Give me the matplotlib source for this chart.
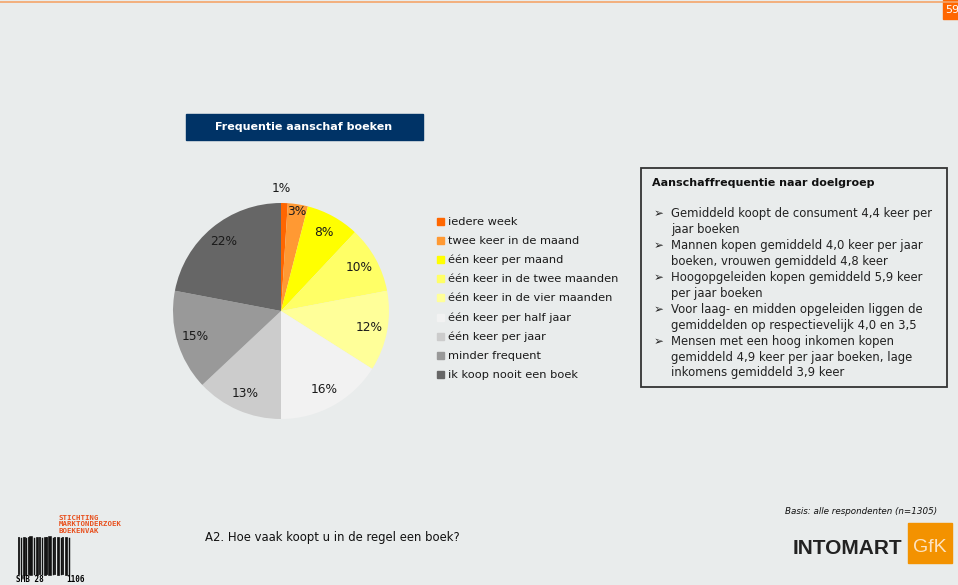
import matplotlib
matplotlib.use('Agg')
import matplotlib.pyplot as plt
from matplotlib.patches import Rectangle
import numpy as np

# Data
categories = ['iedere week', 'twee keer in de maand', 'één keer per maand',
              'één keer in de twee maanden', 'één keer in de vier maanden',
              'één keer per half jaar', 'één keer per jaar', 'minder frequent',
              'ik koop nooit een boek']
shares = [1, 3, 8, 10, 12, 16, 13, 15, 22]
colors = ['#FF6600', '#FF9933', '#FFFF00', '#FFFF66', '#FFFF99',
          '#F2F2F2', '#CCCCCC', '#999999', '#666666']

box_title = 'Aanschaffrequentie naar doelgroep'
box_lines = [
    ['Gemiddeld koopt de consument 4,4 keer per', 'jaar boeken'],
    ['Mannen kopen gemiddeld 4,0 keer per jaar', 'boeken, vrouwen gemiddeld 4,8 keer'],
    ['Hoogopgeleiden kopen gemiddeld 5,9 keer', 'per jaar boeken'],
    ['Voor laag- en midden opgeleiden liggen de', 'gemiddelden op respectievelijk 4,0 en 3,5'],
    ['Mensen met een hoog inkomen kopen', 'gemiddeld 4,9 keer per jaar boeken, lage',
     'inkomens gemiddeld 3,9 keer'],
]

bg = '#E9ECEC'
W, H = 958, 585
fig = plt.figure(figsize=(W / 100, H / 100), dpi=100, facecolor=bg)

# page-level axes in pixel coordinates (y downward)
page = fig.add_axes([0, 0, 1, 1])
page.set_xlim(0, W)
page.set_ylim(H, 0)
page.axis('off')

# top line and page number
page.plot([0, W], [2, 2], color='#F4A46A', lw=1.2)
page.add_patch(Rectangle((943, 0), 20, 19, color='#FF6600'))
page.text(945, 10, '59', color='white', fontsize=8, va='center', ha='left')

# chart title
page.add_patch(Rectangle((186, 114), 237, 26, color='#003366'))
page.text(304, 127, 'Frequentie aanschaf boeken', color='white', fontsize=8,
          fontweight='bold', ha='center', va='center')

# pie
ax = fig.add_axes([173 / W, (H - 419) / H, 216 / W, 216 / H])
wedges, texts, autotexts = ax.pie(shares, colors=colors, startangle=90, counterclock=False,
                                  autopct='%d%%', pctdistance=0.83,
                                  textprops={'fontsize': 8.8, 'color': '#1a1a1a'})
ax.set_aspect('equal')
ax.set_xlim(-1, 1)
ax.set_ylim(-1, 1)
# the two small slices get their labels further out
for i, (w, t) in enumerate(zip(wedges, autotexts)):
    mid = np.deg2rad((w.theta1 + w.theta2) / 2)
    if i == 0:
        t.set_position((0, 1.13))
    elif i == 1:
        t.set_position((0.93 * np.cos(mid), 0.93 * np.sin(mid)))

# legend
for i, (c, lab) in enumerate(zip(colors, categories)):
    y = 222 + i * 19.1
    page.add_patch(Rectangle((437, y - 4), 7, 7, color=c))
    page.text(448, y, lab, fontsize=8.2, va='center', ha='left', color='#1a1a1a')

# text box
page.add_patch(Rectangle((641, 168), 306, 219, facecolor='none', edgecolor='#333333', lw=1.3))
page.text(652, 183, box_title, fontsize=8, fontweight='bold', va='center', color='#111111')
y = 214
for group in box_lines:
    page.text(654, y, '➢', fontsize=8.5, va='center', color='#222222')
    for line in group:
        page.text(671, y, line, fontsize=8.35, va='center', color='#222222')
        y += 15.9

# footer
page.text(205, 538, 'A2. Hoe vaak koopt u in de regel een boek?', fontsize=8.4, va='center',
          color='#111111')
page.text(937, 512, 'Basis: alle respondenten (n=1305)', fontsize=6.3, style='italic',
          ha='right', va='center', color='#111111')
page.text(902, 549, 'INTOMART', fontsize=15, fontweight='bold', ha='right', va='center',
          family=['Liberation Sans Narrow', 'Liberation Sans'], color='#222222')
page.add_patch(Rectangle((908, 523), 44, 40, color='#F39200'))
page.text(930, 548, 'GfK', fontsize=14, ha='center', va='center', color='#FDE3C0',
          family=['Liberation Sans Narrow', 'Liberation Sans'])

# left logo
for j, lab in enumerate(['STICHTING', 'MARKTONDERZOEK', 'BOEKENVAK']):
    page.text(59, 518 + j * 6.5, lab, fontsize=5.3, fontweight='bold', family='DejaVu Sans Mono',
              color='#E8501E', va='center')
bars = [19, 21, 24, 26, 29, 31, 34, 37, 40, 42, 45, 47, 50, 53, 55, 58, 61, 63, 66, 69]
widths = [1, 0.8, 1.5, 0.8, 1, 2, 0.8, 1.5, 1, 0.8, 1.5, 1, 2, 0.8, 1, 1.5, 0.8, 1, 1.5, 0.8]
for xb, wb in zip(bars, widths):
    page.plot([xb, xb], [538, 574], color='#111111', lw=wb * 1.3)
page.text(16, 579, 'SMB 28', fontsize=5.5, family='DejaVu Sans Mono', fontweight='bold', va='center')
page.text(66, 579, '1106', fontsize=5.5, family='DejaVu Sans Mono', fontweight='bold', va='center')

fig.savefig('out.png', dpi=100, facecolor=bg)
